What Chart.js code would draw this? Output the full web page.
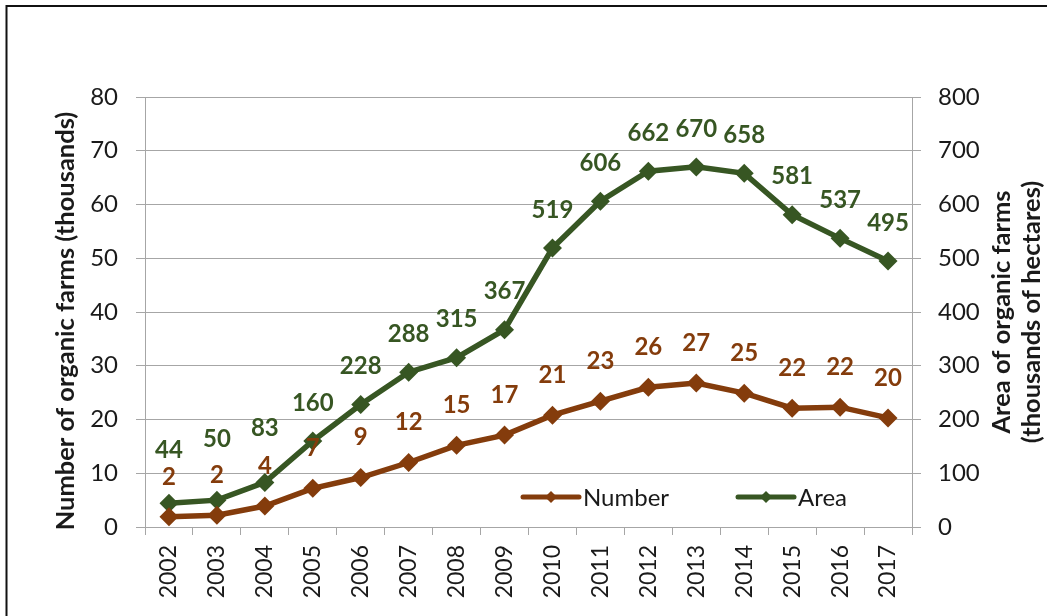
<!DOCTYPE html>
<html>
<head>
<meta charset="utf-8">
<script src="https://cdn.jsdelivr.net/npm/chart.js@4/dist/chart.umd.min.js"></script>
<style>
  html, body { margin: 0; padding: 0; background: #fff; }
  canvas { display: block; }
</style>
</head>
<body>
<canvas id="farmChart" width="1047" height="616"></canvas>
<script>
// Dados
const years = ['2002', '2003', '2004', '2005', '2006', '2007', '2008', '2009',
               '2010', '2011', '2012', '2013', '2014', '2015', '2016', '2017'];
const farmNumber = [1.9, 2.2, 3.9, 7.2, 9.2, 12.0, 15.2, 17.1, 20.8, 23.4, 26.0, 26.8, 24.9, 22.1, 22.3, 20.3];
const farmArea = [44, 50, 83, 160, 228, 288, 315, 367, 519, 606, 662, 670, 658, 581, 537, 495];
const numberTicks = [0, 10, 20, 30, 40, 50, 60, 70, 80];
const areaTicks = [0, 100, 200, 300, 400, 500, 600, 700, 800];

const leftTitle = 'Number of organic farms (thousands)';
const rightTitle = ['Area of organic farms', '(thousands of hectares)'];

// Estilo
const BROWN = '#843c0c';
const GREEN = '#375623';
const GRID = '#a6a6a6';
const TEXT = '#1a1a1a';
const FONT = 'Lato';

// rótulos movidos para cima (como no original) nos primeiros anos da área
const areaLabelLift = [15, 23, 16, 0, 0, 0, 0, 0, 0, 0, 0, 0, 0, 0, 0, 0];

// === Plugin: rótulos, títulos, legenda e moldura ===
const extrasPlugin = {
    id: 'extras',
    afterDatasetsDraw(chart) {
        const ctx = chart.ctx;
        ctx.save();
        ctx.font = `bold 24px ${FONT}`;
        ctx.textAlign = 'center';
        ctx.textBaseline = 'middle';
        chart.data.datasets.forEach((ds, di) => {
            const meta = chart.getDatasetMeta(di);
            ctx.fillStyle = ds.borderColor;
            meta.data.forEach((pt, i) => {
                const lift = di === 1 ? 38 + areaLabelLift[i] : 40;
                ctx.fillText(String(Math.round(ds.data[i])), pt.x, pt.y - lift);
            });
        });
        ctx.restore();
    },
    afterDraw(chart) {
        const ctx = chart.ctx;
        ctx.save();

        // Títulos dos eixos (rotacionados de baixo para cima)
        ctx.fillStyle = TEXT;
        ctx.font = `bold 25.5px ${FONT}`;
        ctx.textAlign = 'center';
        ctx.textBaseline = 'middle';
        ctx.save();
        ctx.translate(66, 321);
        ctx.rotate(-Math.PI / 2);
        ctx.fillText(leftTitle, 0, 0);
        ctx.restore();
        [1002, 1032].forEach((x, k) => {
            ctx.save();
            ctx.translate(x, 312);
            ctx.rotate(-Math.PI / 2);
            ctx.fillText(rightTitle[k], 0, 0);
            ctx.restore();
        });

        // Legenda dentro da área do gráfico
        const legendY = 497;
        const legendX = [523, 738];
        ctx.font = `24px ${FONT}`;
        ctx.textAlign = 'left';
        chart.data.datasets.forEach((ds, di) => {
            const x0 = legendX[di];
            ctx.strokeStyle = ds.borderColor;
            ctx.lineWidth = 5;
            ctx.lineCap = 'round';
            ctx.beginPath();
            ctx.moveTo(x0, legendY);
            ctx.lineTo(x0 + 56, legendY);
            ctx.stroke();
            ctx.fillStyle = ds.borderColor;
            ctx.beginPath();
            ctx.moveTo(x0 + 28, legendY - 6);
            ctx.lineTo(x0 + 34, legendY);
            ctx.lineTo(x0 + 28, legendY + 6);
            ctx.lineTo(x0 + 22, legendY);
            ctx.closePath();
            ctx.fill();
            ctx.fillStyle = TEXT;
            ctx.fillText(ds.label, x0 + 60, legendY + 1);
        });

        // Moldura
        ctx.strokeStyle = '#111';
        ctx.lineWidth = 2;
        ctx.lineCap = 'butt';
        ctx.beginPath();
        ctx.moveTo(6.5, 616);
        ctx.lineTo(6.5, 6);
        ctx.lineTo(1047, 6);
        ctx.stroke();
        ctx.restore();
    }
};

// === Gráfico ===
const ctx = document.getElementById('farmChart').getContext('2d');
const tickFont = { family: FONT, size: 24 };

new Chart(ctx, {
    type: 'line',
    data: {
        labels: years,
        datasets: [
            {
                label: 'Number',
                data: farmNumber,
                yAxisID: 'yNum',
                borderColor: BROWN,
                backgroundColor: BROWN,
                borderWidth: 5.5,
                pointStyle: 'rectRot',
                pointRadius: 9.5,
                pointBorderWidth: 0,
                tension: 0
            },
            {
                label: 'Area',
                data: farmArea,
                yAxisID: 'yArea',
                borderColor: GREEN,
                backgroundColor: GREEN,
                borderWidth: 5.5,
                pointStyle: 'rectRot',
                pointRadius: 9.5,
                pointBorderWidth: 0,
                tension: 0
            }
        ]
    },
    options: {
        responsive: false,
        animation: false,
        layout: { padding: { top: 97, left: 0, right: 0, bottom: 0 } },
        plugins: {
            legend: { display: false },
            tooltip: { enabled: false }
        },
        scales: {
            x: {
                offset: true,
                grid: { drawOnChartArea: false, offset: true, tickLength: 8, color: GRID },
                border: { color: GRID },
                ticks: { color: TEXT, font: { family: FONT, size: 23 }, minRotation: 90, maxRotation: 90, padding: 10 },
                afterFit: s => { s.height = 89; }
            },
            yNum: {
                position: 'left',
                min: numberTicks[0],
                max: numberTicks[numberTicks.length - 1],
                grid: { color: GRID, tickLength: 9 },
                border: { color: GRID },
                ticks: { stepSize: numberTicks[1] - numberTicks[0], color: TEXT, font: tickFont, padding: 18 },
                afterFit: s => { s.width = 145; }
            },
            yArea: {
                position: 'right',
                min: areaTicks[0],
                max: areaTicks[areaTicks.length - 1],
                grid: { drawOnChartArea: false, color: GRID, tickLength: 9 },
                border: { color: GRID },
                ticks: { stepSize: areaTicks[1] - areaTicks[0], color: TEXT, font: tickFont, padding: 17 },
                afterFit: s => { s.width = 135; }
            }
        }
    },
    plugins: [extrasPlugin]
});
</script>
</body>
</html>
